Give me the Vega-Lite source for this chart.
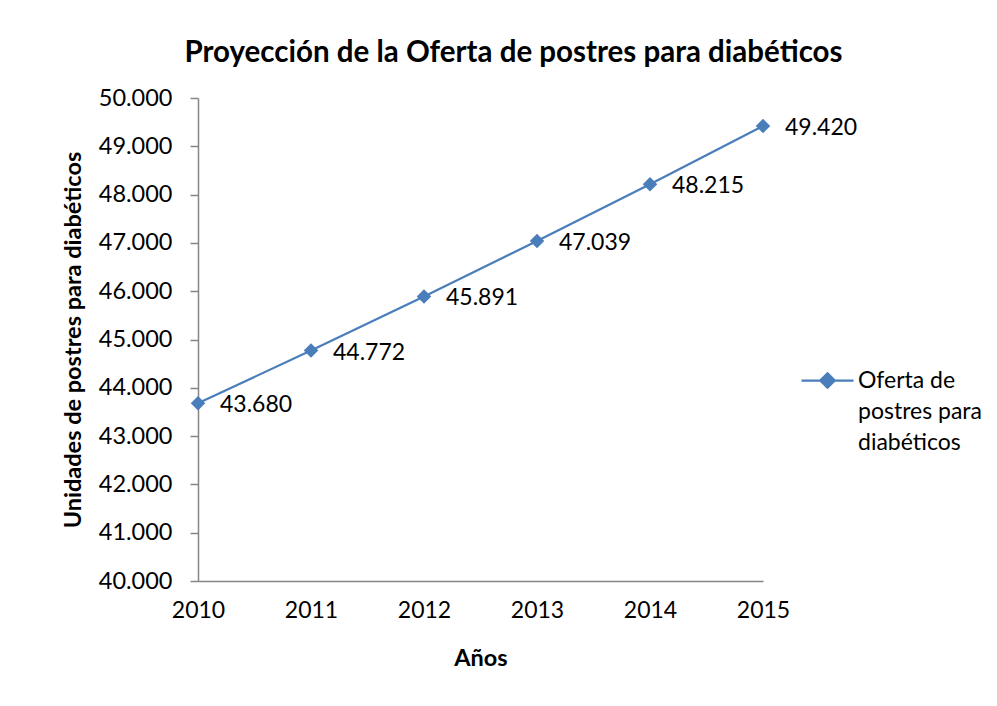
{
  "$schema": "https://vega.github.io/schema/vega-lite/v6.json",
  "autosize": "none",
  "width": 565,
  "height": 483,
  "padding": {"left": 198, "top": 98, "right": 234, "bottom": 125},
  "background": "white",
  "config": {
    "locale": {"number": {"decimal": ",", "thousands": ".", "grouping": [3], "currency": ["", " €"]}},
    "view": {"stroke": null},
    "font": "Lato"
  },
  "title": {
    "text": "Proyección de la Oferta de postres para diabéticos",
    "font": "Lato",
    "fontSize": 29.5,
    "fontWeight": "bold",
    "color": "black",
    "offset": 18,
    "dx": 33
  },
  "data": {
    "values": [
      {"anio": "2010", "serie": "Oferta de postres para diabéticos", "unidades": 43680},
      {"anio": "2011", "serie": "Oferta de postres para diabéticos", "unidades": 44772},
      {"anio": "2012", "serie": "Oferta de postres para diabéticos", "unidades": 45891},
      {"anio": "2013", "serie": "Oferta de postres para diabéticos", "unidades": 47039},
      {"anio": "2014", "serie": "Oferta de postres para diabéticos", "unidades": 48215},
      {"anio": "2015", "serie": "Oferta de postres para diabéticos", "unidades": 49420}
    ]
  },
  "encoding": {
    "x": {
      "field": "anio",
      "type": "ordinal",
      "scale": {"type": "point", "padding": 0},
      "axis": {
        "title": "Años",
        "labelAngle": 0,
        "ticks": false,
        "tickSize": 0,
        "domainColor": "#868686",
        "domainWidth": 1.5,
        "labelFont": "Lato",
        "labelFontSize": 23,
        "labelColor": "black",
        "labelPadding": 18,
        "titleFont": "Lato",
        "titleFontSize": 23.5,
        "titleFontWeight": "bold",
        "titleColor": "black",
        "titlePadding": 24
      }
    },
    "y": {
      "field": "unidades",
      "type": "quantitative",
      "scale": {"domain": [40000, 50000], "nice": false, "zero": false},
      "axis": {
        "title": "Unidades de postres para diabéticos",
        "values": [40000, 41000, 42000, 43000, 44000, 45000, 46000, 47000, 48000, 49000, 50000],
        "format": ",.0f",
        "grid": false,
        "domainColor": "#868686",
        "domainWidth": 1.5,
        "tickColor": "#868686",
        "tickWidth": 1.5,
        "tickSize": 8,
        "labelFont": "Lato",
        "labelFontSize": 23.5,
        "labelColor": "black",
        "labelPadding": 18,
        "titleFont": "Lato",
        "titleFontSize": 23.5,
        "titleFontWeight": "bold",
        "titleColor": "black",
        "titlePadding": 13
      }
    }
  },
  "layer": [
    {
      "mark": {"type": "line", "strokeWidth": 2.25},
      "encoding": {
        "color": {
          "field": "serie",
          "type": "nominal",
          "scale": {"range": ["#4A7EBB"]},
          "legend": {
            "title": null,
            "orient": "none",
            "legendX": 602,
            "legendY": 255,
            "padding": 0,
            "symbolType": "M-1,0L1,0M0,-0.28L0.28,0L0,0.28L-0.28,0Z",
            "symbolSize": 2704,
            "symbolStrokeWidth": 2.25,
            "symbolFillColor": "#4A7EBB",
            "symbolStrokeColor": "#4A7EBB",
            "labelFont": "Lato",
            "labelFontSize": 23,
            "labelColor": "black",
            "labelOffset": 3,
            "labelLimit": 300,
            "labelExpr": "['Oferta de', 'postres para', 'diabéticos']",
            "encode": {"labels": {"update": {"lineHeight": {"value": 31}}}}
          }
        }
      }
    },
    {
      "mark": {"type": "point", "shape": "diamond", "filled": true, "size": 210, "opacity": 1},
      "encoding": {
        "color": {"field": "serie", "type": "nominal", "legend": null}
      }
    },
    {
      "mark": {"type": "text", "align": "left", "baseline": "middle", "dx": 22, "dy": 2, "fontSize": 23, "font": "Lato", "color": "black"},
      "encoding": {
        "text": {"field": "unidades", "type": "quantitative", "format": ",.0f"}
      }
    }
  ]
}
